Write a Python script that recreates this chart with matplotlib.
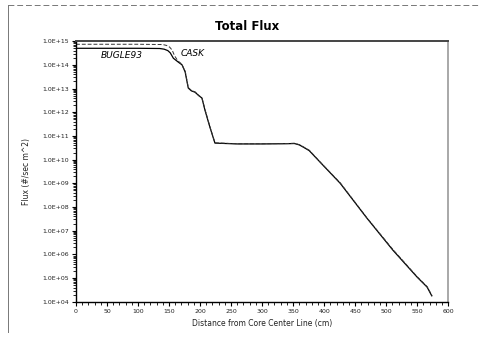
import matplotlib
matplotlib.use('Agg')
import matplotlib.pyplot as plt
from matplotlib.lines import Line2D
from matplotlib.ticker import FixedLocator, LogLocator, NullFormatter, MultipleLocator

# --- Data ---
bugle_x = [0, 40, 100, 135, 142, 148, 152, 157, 165, 171, 176, 181, 186, 192,
           198, 203, 208, 216, 224, 260, 300, 340, 352, 360, 368, 376, 398,
           426, 469, 511, 550, 566, 574]
bugle_flux = [5.0e14, 5.0e14, 5.0e14, 4.9e14, 4.6e14, 4.0e14, 3.2e14, 1.9e14,
              1.3e14, 1.0e14, 5.0e13, 1.05e13, 8.0e12, 7.0e12, 5.0e12, 4.0e12,
              1.2e12, 2.3e11, 5.0e10, 4.6e10, 4.6e10, 4.7e10, 4.8e10, 4.2e10,
              3.2e10, 2.4e10, 5.9e9, 1.0e9, 3.4e7, 1.5e6, 1.1e5, 4.2e4, 1.7e4]

cask_x = [0, 40, 100, 140, 146, 151, 155, 159, 164, 170, 176, 181, 186, 192,
          198, 203, 208, 216, 224, 260, 300, 340, 352, 360, 368, 376, 398,
          426, 469, 511, 550, 566, 574]
cask_flux = [7.4e14, 7.4e14, 7.4e14, 7.2e14, 6.6e14, 5.6e14, 4.2e14, 2.4e14,
             1.5e14, 1.1e14, 5.5e13, 1.1e13, 8.3e12, 7.2e12, 5.1e12, 4.1e12,
             1.3e12, 2.4e11, 5.1e10, 4.7e10, 4.7e10, 4.8e10, 4.9e10, 4.3e10,
             3.3e10, 2.5e10, 6.0e9, 1.05e9, 3.5e7, 1.6e6, 1.15e5, 4.4e4, 1.8e4]

y_ticks = [10.0 ** p for p in range(4, 16)]
y_tick_labels = ['1.0E+%02d' % p for p in range(4, 16)]
x_ticks = list(range(0, 601, 50))

# --- Figure ---
fig = plt.figure(figsize=(4.84, 3.43), dpi=100)
ax = fig.add_axes([0.157, 0.120, 0.769, 0.760])

ax.plot(bugle_x, bugle_flux, color='black', linewidth=0.9, solid_capstyle='butt')
ax.plot(cask_x, cask_flux, color='#333333', linewidth=0.7, linestyle=(0, (4, 2)))

ax.set_yscale('log')
ax.set_xlim(0, 600)
ax.set_ylim(1e4, 1e15)

ax.yaxis.set_major_locator(FixedLocator(y_ticks))
ax.set_yticklabels(y_tick_labels)
ax.yaxis.set_minor_locator(LogLocator(base=10, subs=range(2, 10), numticks=50))
ax.yaxis.set_minor_formatter(NullFormatter())
ax.set_xticks(x_ticks)
ax.xaxis.set_minor_locator(MultipleLocator(10))

ax.tick_params(axis='both', which='major', labelsize=4.5, length=3, width=0.8,
               direction='out', pad=2, colors='black', labelcolor='#222222')
ax.tick_params(axis='both', which='minor', length=2, width=0.6, direction='out')

for side in ('left', 'bottom'):
    ax.spines[side].set_color('black')
    ax.spines[side].set_linewidth(1.0)
ax.spines['top'].set_color('#444444')
ax.spines['top'].set_linewidth(1.4)
ax.spines['right'].set_color('#999999')
ax.spines['right'].set_linewidth(1.2)

ax.set_title('Total Flux', fontsize=8.5, fontweight='bold', x=0.46, pad=8)
ax.set_xlabel('Distance from Core Center Line (cm)', fontsize=5.5, labelpad=4,
              color='#222222')
ax.set_ylabel('Flux (#/sec m^2)', fontsize=5.5, labelpad=8, color='#222222')

ax.text(40, 2.6e14, 'BUGLE93', fontsize=6.5, style='italic', va='center')
ax.text(168, 2.9e14, 'CASK', fontsize=6.5, style='italic', va='center')

# scanned page frame
frame = dict(color='#777777', linewidth=0.7, linestyle=(0, (6, 3)))
fig.add_artist(Line2D([8 / 484, 478 / 484], [1 - 5 / 343, 1 - 5 / 343],
                      transform=fig.transFigure, **frame))
fig.add_artist(Line2D([8 / 484, 8 / 484], [1 - 5 / 343, 1 - 332 / 343],
                      transform=fig.transFigure, color='#777777', linewidth=0.7))

fig.savefig('out.png', dpi=100)
